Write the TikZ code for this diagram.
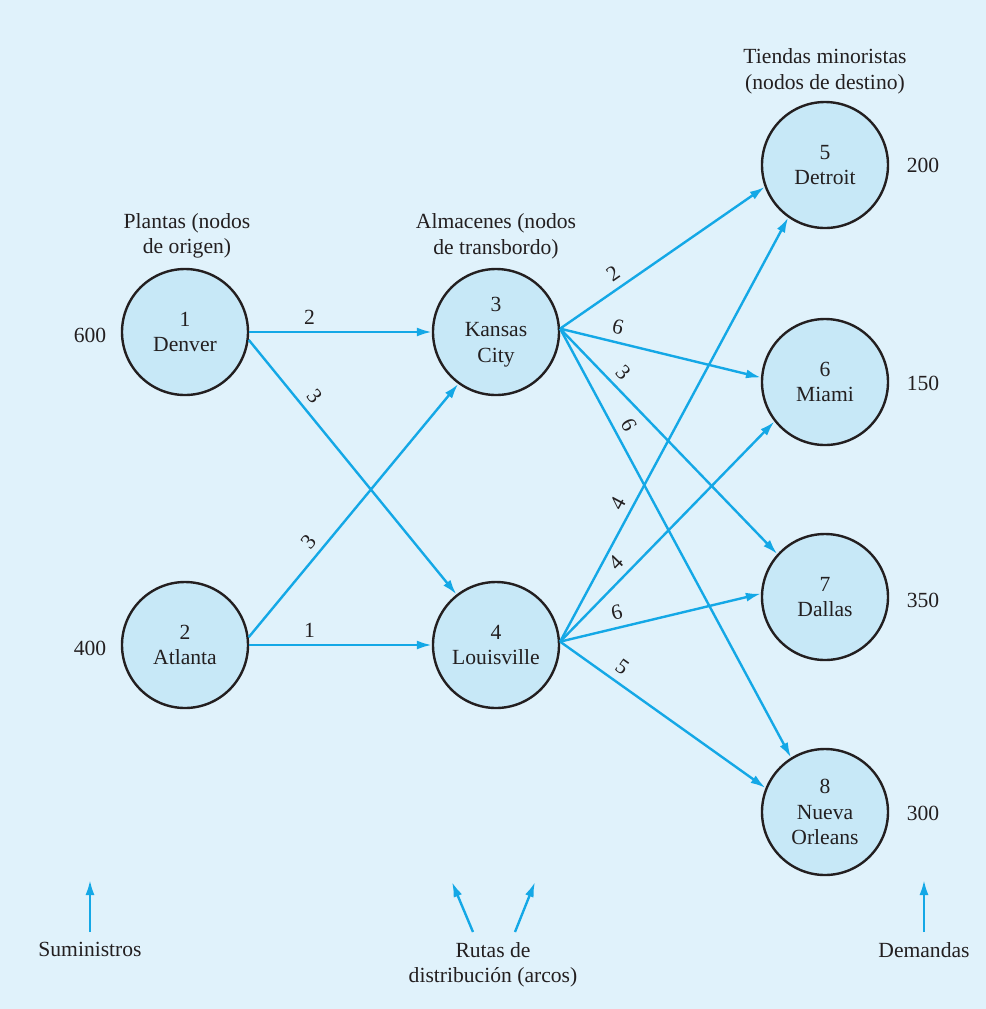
\documentclass[tikz,border=0pt]{standalone}
\usepackage{fontspec}
\setmainfont{Liberation Serif}
\usetikzlibrary{arrows.meta,positioning}
\definecolor{bgblue}{RGB}{224,242,251}
\definecolor{nodeblue}{RGB}{199,232,247}
\definecolor{routeblue}{RGB}{20,168,230}
\definecolor{inkgray}{RGB}{35,31,32}

\begin{document}
\begin{tikzpicture}[
      x=0.5pt,y=-0.5pt,
      font=\fontsize{10.8}{12.8}\selectfont,
      every node/.style={text=inkgray},
      site/.style={circle, draw=inkgray, line width=1.2pt, fill=nodeblue, minimum size=63pt, inner sep=0pt, align=center},
      route/.style={draw=routeblue, line width=1.2pt, -{Latex[length=7.5pt,width=4.5pt]}},
      cost/.style={sloped, above},
      heading/.style={align=center},
      foot/.style={align=center, anchor=north, inner sep=0pt, outer sep=5pt}
    ]
      \fill[bgblue] (0,0) rectangle (986,1009);
      \useasboundingbox (0,0) rectangle (986,1009);
      \node[site] (n1) at (185,332) {1\\Denver};
      \node[site] (n2) at (185,645) {2\\Atlanta};
      \node[site] (n3) at (496,332) {3\\Kansas\\City};
      \node[site] (n4) at (496,645) {4\\Louisville};
      \node[site] (n5) at (825,165) {5\\Detroit};
      \node[site] (n6) at (825,382) {6\\Miami};
      \node[site] (n7) at (825,597) {7\\Dallas};
      \node[site] (n8) at (825,812) {8\\Nueva\\Orleans};
      \node (s1) at (90,335) {600};
      \node (s2) at (90,648) {400};
      \node (d5) at (923,165) {200};
      \node (d6) at (923,383) {150};
      \node (d7) at (923,600) {350};
      \node (d8) at (923,813) {300};
      \node[heading] (plantas) at (187,236) {Plantas (nodos\\de origen)};
      \node[heading] (almacenes) at (496,236) {Almacenes (nodos\\de transbordo)};
      \node[heading] (tiendas) at (825,71) {Tiendas minoristas\\(nodos de destino)};
      \draw[route] (n1.east) -- node[cost, pos=0.33] {2} (n3.west);
      \draw[route] (n1.-7) -- node[cost, pos=0.26] {3} (n4.128);
      \draw[route] (n2.7) -- node[cost, pos=0.34] {3} (n3.234);
      \draw[route] (n2.east) -- node[cost, pos=0.33] {1} (n4.west);
      \foreach \s/\t/\ang/\c/\p in {3/5/200/2/0.30, 3/6/176/6/0.27, 3/7/138/3/0.24, 3/8/122/6/0.24,
                                    4/5/235/4/0.31, 4/6/218/4/0.31, 4/7/177/6/0.30, 4/8/158/5/0.26}
        \draw[route] (n\s.3) -- node[cost, pos=\p] {\c} (n\t.\ang);
      \node[foot] (sup) at (90,932) {Suministros};
      \node[foot] (rutas) at (493,932) {Rutas de\\distribución (arcos)};
      \node[foot] (dem) at (924,932) {Demandas};
      \coordinate (supTip) at (90,880);
      \coordinate (rutaL) at (452,882);
      \coordinate (rutaR) at (535,882);
      \coordinate (demTip) at (924,880);
      \draw[route] (sup.north) -- (supTip);
      \draw[route] ([xshift=-10pt]rutas.north) -- (rutaL);
      \draw[route] ([xshift=11pt]rutas.north) -- (rutaR);
      \draw[route] (dem.north) -- (demTip);
    \end{tikzpicture}
\end{document}
